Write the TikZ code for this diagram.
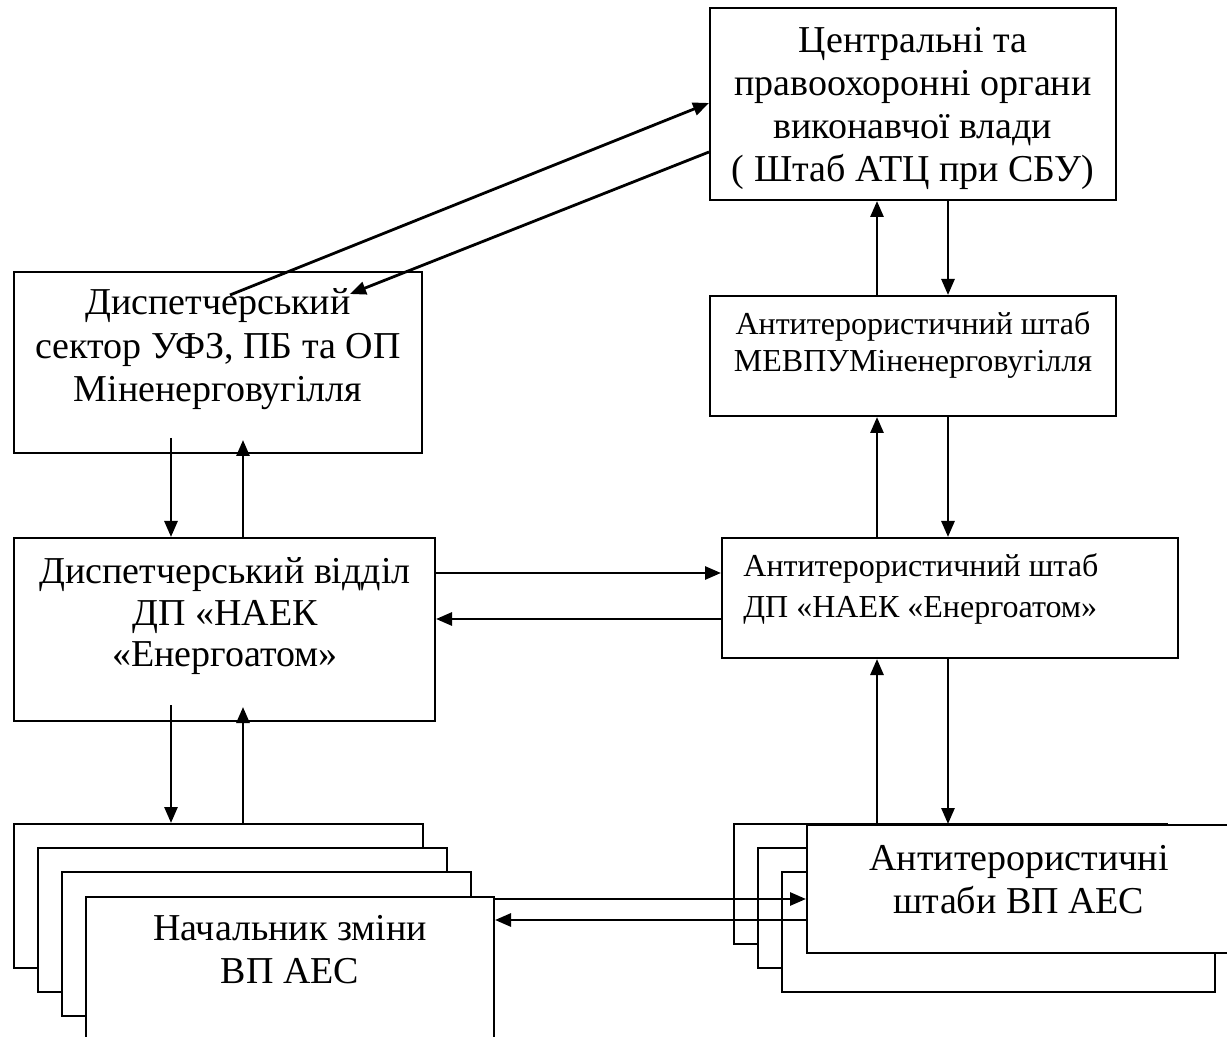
\documentclass[tikz,border=0pt]{standalone}
\usepackage{fontspec}
\setmainfont{Liberation Serif}
\usetikzlibrary{arrows.meta,fit}
\begin{document}
\begin{tikzpicture}[x=0.5pt,y=-0.5pt,
  box/.style={draw,line width=1pt,fill=white,inner sep=0pt},
  arr/.style={line width=1.4pt,-{Triangle[length=8pt,width=6.5pt]}},
  big/.style={inner sep=0pt,font=\fontsize{19}{21.5}\selectfont},
  small/.style={inner sep=0pt,font=\fontsize{16}{18.5}\selectfont}]
\path[use as bounding box,fill=white] (0,0) rectangle (1227,1037);
\clip (0,0) rectangle (1227,1037);

% main boxes
\node[box,fit={(710,8)(1116,200)}] (central) {};
\node[box,fit={(710,296)(1116,416)}] (mev) {};
\node[box,fit={(722,538)(1178,658)}] (naek) {};
\node[box,fit={(14,272)(422,453)}] (sector) {};
\node[box,fit={(14,538)(435,721)}] (dept) {};

% left stack
\node[box,fit={(14,824)(423,968)}] (ls1) {};
\node[box,fit={(38,848)(447,992)}] (ls2) {};
\node[box,fit={(62,872)(471,1016)}] (ls3) {};
\node[box,fit={(86,897)(494,1050)}] (ls4) {};

% right stack
\node[box,fit={(734,824)(1167,944)}] (rs1) {};
\node[box,fit={(758,848)(1191,968)}] (rs2) {};
\node[box,fit={(782,872)(1215,992)}] (rs3) {};
\node[box,fit={(807,825)(1235,953)}] (rs4) {};

% texts
\node[big,anchor=base] (tcentral) at (913,53) {\begin{tabular}[t]{@{}c@{}}Центральні та\\правоохоронні органи\\виконавчої влади\\( Штаб АТЦ при СБУ)\end{tabular}};
\node[small,anchor=base] (tmev) at (913,335) {\begin{tabular}[t]{@{}c@{}}Антитерористичний штаб\\МЕВПУМіненерговугілля\end{tabular}};
\node[small,anchor=base west,font=\fontsize{16}{20.5}\selectfont] (tnaek) at (743,577) {\begin{tabular}[t]{@{}l@{}}Антитерористичний штаб\\ДП «НАЕК «Енергоатом»\end{tabular}};
\node[big,anchor=base,font=\fontsize{19}{21.75}\selectfont] (tsector) at (218,315) {\begin{tabular}[t]{@{}c@{}}Диспетчерський\\сектор УФЗ, ПБ та ОП\\Міненерговугілля\end{tabular}};
\node[big,anchor=base,font=\fontsize{19}{21}\selectfont] (tdept) at (225,583) {\begin{tabular}[t]{@{}c@{}}Диспетчерський відділ\\ДП «НАЕК\\«Енергоатом»\end{tabular}};
\node[big,anchor=base] (tls) at (290,940) {\begin{tabular}[t]{@{}c@{}}Начальник зміни\\ВП АЕС\end{tabular}};
\node[big,anchor=base] (trs) at (1019,870) {\begin{tabular}[t]{@{}c@{}}Антитерористичні\\штаби ВП АЕС\end{tabular}};

% column coordinates
\coordinate (ux) at (877,0);
\coordinate (dx) at (948,0);
\coordinate (lx) at (171,0);
\coordinate (rx) at (243,0);

% right column arrows
\draw[arr] (ux |- mev.north) -- (ux |- central.south);
\draw[arr] (dx |- central.south) -- (dx |- mev.north);
\draw[arr] (ux |- naek.north) -- (ux |- mev.south);
\draw[arr] (dx |- mev.south) -- (dx |- naek.north);
\draw[arr] (ux |- rs4.north) -- (ux |- naek.south);
\draw[arr] (dx |- naek.south) -- (dx |- rs4.north);

% left column arrows
\coordinate (s1) at (171,438);
\coordinate (s2) at (243,440);
\coordinate (d1) at (171,705);
\coordinate (d2) at (243,707);
\draw[arr] (s1) -- (lx |- dept.north);
\draw[arr] (rx |- dept.north) -- (s2);
\draw[arr] (d1) -- (lx |- ls1.north);
\draw[arr] (rx |- ls1.north) -- (d2);

% horizontal arrows
\coordinate (h1) at (0,573);
\coordinate (h2) at (0,619);
\coordinate (h3) at (0,899);
\coordinate (h4) at (0,920);
\draw[arr] (dept.east |- h1) -- (naek.west |- h1);
\draw[arr] (naek.west |- h2) -- (dept.east |- h2);
\draw[arr] (ls4.east |- h3) -- (rs4.west |- h3);
\draw[arr] (rs4.west |- h4) -- (ls4.east |- h4);

% diagonal arrows
\coordinate (g1) at (230,295);
\coordinate (g2) at (350,294);
\coordinate (c1) at (0,103);
\coordinate (c2) at (0,152);
\draw[arr] (g1) -- (central.west |- c1);
\draw[arr] (central.west |- c2) -- (g2);
\end{tikzpicture}
\end{document}
